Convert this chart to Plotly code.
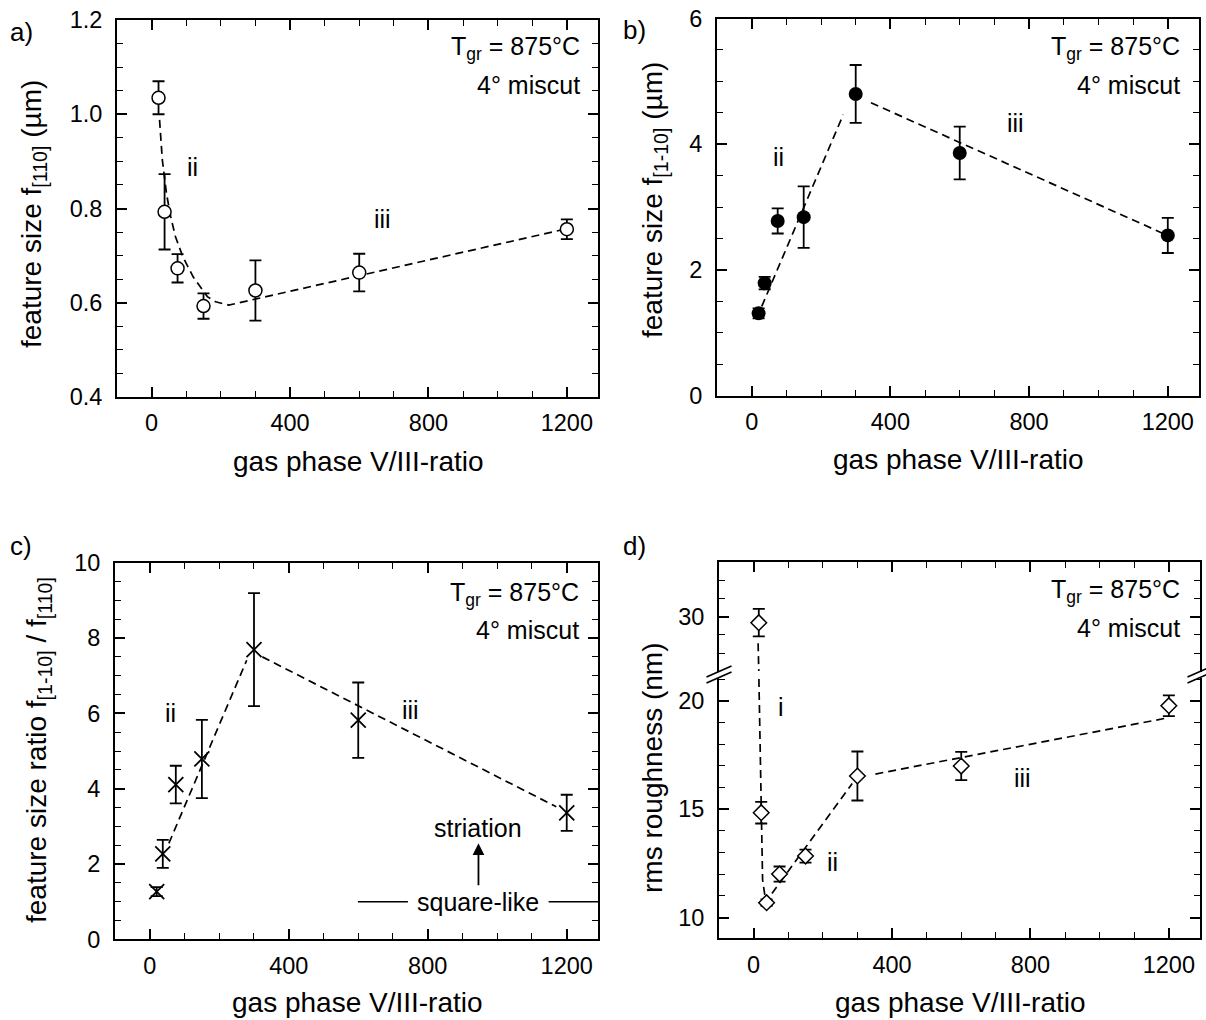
import plotly.graph_objects as go

W, H = 1206, 1020

# a) feature size along [110]
ratio_abc = [20, 37.5, 75, 150, 300, 600, 1200]
size_110 = [1.035, 0.793, 0.673, 0.593, 0.626, 0.664, 0.756]
size_110_err = [0.035, 0.08, 0.03, 0.027, 0.064, 0.04, 0.021]
guide_a_x = [23, 31, 43, 55, 69, 90, 120, 161, 185, 223, 1194]
guide_a_y = [0.988, 0.903, 0.832, 0.783, 0.740, 0.698, 0.655, 0.613, 0.602, 0.595, 0.756]

# b) feature size along [1-10]
size_1m10 = [1.31, 1.79, 2.78, 2.84, 4.80, 3.86, 2.55]
size_1m10_err = [0.08, 0.1, 0.2, 0.49, 0.46, 0.42, 0.28]
guide_b_ii_x, guide_b_ii_y = [29, 264], [1.42, 4.47]
guide_b_iii_x, guide_b_iii_y = [344, 1195], [4.66, 2.56]

# c) ratio f[1-10] / f[110]
size_ratio = [1.27, 2.27, 4.11, 4.79, 7.69, 5.82, 3.36]
size_ratio_err = [0.12, 0.37, 0.5, 1.04, 1.5, 1.0, 0.48]
guide_c_ii_x, guide_c_ii_y = [55, 279], [2.55, 7.41]
guide_c_iii_x, guide_c_iii_y = [324, 1170], [7.5, 3.52]

# d) rms roughness, broken y axis
ratio_d = [15, 22, 37.5, 75, 150, 300, 600, 1200]
rms = [29.67, 14.84, 10.69, 12.01, 12.84, 16.53, 16.99, 19.77]
rms_err = [0.75, 0.5, 0.15, 0.35, 0.3, 1.13, 0.65, 0.48]
guide_d_i_top_x, guide_d_i_top_y = [13, 15], [28.55, 27.03]
guide_d_i_x = [15.3, 17.4, 19.4, 22.3, 26, 33.8]
guide_d_i_y = [21.0, 18.96, 16.04, 14.19, 11.74, 10.89]
guide_d_ii_x, guide_d_ii_y = [53, 285], [11.12, 16.19]
guide_d_iii_x, guide_d_iii_y = [352, 1190], [16.62, 19.19]

FONT = "Liberation Sans, Arial, sans-serif"
TITLE_SIZE = 28
LABEL_SIZE = 25


def px(x, y):
    return x / W, 1 - y / H


def dom_x(a, b):
    return [a / W, b / W]


def dom_y(top, bottom):
    return [1 - bottom / H, 1 - top / H]


def base_axis(**kw):
    d = dict(
        showline=True, linecolor="black", linewidth=2, mirror="ticks",
        ticks="inside", ticklen=10, tickwidth=1.6, tickcolor="black",
        showgrid=False, zeroline=False, automargin=False,
        tickfont=dict(size=23.5, color="black", family=FONT),
    )
    d.update(kw)
    return d


def x_axis(domain, anchor, **kw):
    return base_axis(
        domain=domain, anchor=anchor, range=[-100, 1290], tick0=0, dtick=400,
        minor=dict(tick0=0, dtick=100, ticks="inside", ticklen=6, tickwidth=1.4, tickcolor="black"),
        ticklabelstandoff=4, **kw)


def y_axis(domain, anchor, rng, dtick, minor, **kw):
    return base_axis(
        domain=domain, anchor=anchor, range=rng, tick0=0, dtick=dtick,
        minor=dict(tick0=0, dtick=minor, ticks="inside", ticklen=6, tickwidth=1.4, tickcolor="black"),
        ticklabelstandoff=8, **kw)


fig = go.Figure()

err = dict(type="data", color="black", thickness=1.8, width=6)
dash_line = dict(color="black", width=1.7, dash="8px,5px")


def guide(x, y, xa, ya):
    fig.add_trace(go.Scatter(x=x, y=y, mode="lines", line=dash_line, xaxis=xa, yaxis=ya, hoverinfo="skip"))


# panel a
guide(guide_a_x, guide_a_y, "x", "y")
fig.add_trace(go.Scatter(
    x=ratio_abc, y=size_110, mode="markers", xaxis="x", yaxis="y",
    error_y=dict(array=size_110_err, **err),
    marker=dict(symbol="circle", size=13, color="white", line=dict(color="black", width=1.5)),
))

# panel b
guide(guide_b_ii_x, guide_b_ii_y, "x2", "y2")
guide(guide_b_iii_x, guide_b_iii_y, "x2", "y2")
fig.add_trace(go.Scatter(
    x=ratio_abc, y=size_1m10, mode="markers", xaxis="x2", yaxis="y2",
    error_y=dict(array=size_1m10_err, **err),
    marker=dict(symbol="circle", size=14, color="black"),
))

# panel c
guide(guide_c_ii_x, guide_c_ii_y, "x3", "y3")
guide(guide_c_iii_x, guide_c_iii_y, "x3", "y3")
fig.add_trace(go.Scatter(
    x=ratio_abc, y=size_ratio, mode="markers", xaxis="x3", yaxis="y3",
    error_y=dict(array=size_ratio_err, **err),
    marker=dict(symbol="x-thin", size=15, line=dict(color="black", width=1.8)),
))

# panel d (upper part of the broken axis holds the first point)
guide(guide_d_i_top_x, guide_d_i_top_y, "x5", "y5")
guide(guide_d_i_x, guide_d_i_y, "x4", "y4")
guide(guide_d_ii_x, guide_d_ii_y, "x4", "y4")
guide(guide_d_iii_x, guide_d_iii_y, "x4", "y4")
diamond = dict(symbol="diamond", size=12, color="white", line=dict(color="black", width=1.5))
fig.add_trace(go.Scatter(
    x=ratio_d[:1], y=rms[:1], mode="markers", xaxis="x5", yaxis="y5",
    error_y=dict(array=rms_err[:1], **err), marker=diamond,
))
fig.add_trace(go.Scatter(
    x=ratio_d[1:], y=rms[1:], mode="markers", xaxis="x4", yaxis="y4",
    error_y=dict(array=rms_err[1:], **err), marker=diamond,
))

fig.update_layout(
    width=W, height=H,
    margin=dict(l=0, r=0, t=0, b=0, autoexpand=False),
    paper_bgcolor="white", plot_bgcolor="white",
    showlegend=False,
    font=dict(family=FONT, size=23, color="black"),
    xaxis=x_axis(dom_x(117, 598), "y"),
    yaxis=y_axis(dom_y(20, 397), "x", [0.4, 1.2], 0.2, 0.05, tickformat=".1f"),
    xaxis2=x_axis(dom_x(717, 1199), "y2"),
    yaxis2=y_axis(dom_y(18.5, 395.7), "x2", [0, 6], 2, 0.5),
    xaxis3=x_axis(dom_x(115, 598), "y3"),
    yaxis3=y_axis(dom_y(562.7, 939.4), "x3", [0, 10], 2, 0.5),
    xaxis4=x_axis(dom_x(719, 1200), "y4", mirror=False),
    yaxis4=y_axis(dom_y(677.5, 938.3), "x4", [9.05, 21.07], 5, 1),
    xaxis5=x_axis(dom_x(719, 1200), "y5", side="top", mirror=False, showticklabels=False),
    yaxis5=y_axis(dom_y(562.3, 671.5), "x5", [27.0, 32.97], 10, 1, tickvals=[30]),
)

ann = []


def text(x, y, s, size=LABEL_SIZE, xanchor="center", angle=0):
    xp, yp = px(x, y)
    ann.append(dict(x=xp, y=yp, xref="paper", yref="paper", text=s, showarrow=False,
                    xanchor=xanchor, yanchor="middle", textangle=angle,
                    font=dict(size=size, color="black", family=FONT)))


# panel labels
for lab, (lx, ly) in zip(["a)", "b)", "c)", "d)"], [(8, 32), (621, 30), (8, 546), (621, 546)]):
    text(lx, ly, lab, size=26, xanchor="left")

# axis titles
for cx, cy in [(358, 462), (958, 460), (357, 1002), (960, 1002)]:
    text(cx, cy, "gas phase V/III-ratio", size=TITLE_SIZE)
text(33, 214, "feature size f<sub>[110]</sub> (µm)", size=TITLE_SIZE, angle=-90)
text(655, 200, "feature size f<sub>[1-10]</sub> (µm)", size=TITLE_SIZE, angle=-90)
text(38, 750, "feature size ratio f<sub>[1-10]</sub> / f<sub>[110]</sub>", size=TITLE_SIZE, angle=-90)
text(652, 768, "rms roughness (nm)", size=TITLE_SIZE, angle=-90)

# growth condition labels
for rx, y1, y2 in [(582, 48, 85), (1182, 48, 85), (581, 594, 630), (1182, 591, 628)]:
    text(rx, y1, "T<sub>gr</sub> = 875°C", xanchor="right")
    text(rx, y2, "4° miscut", xanchor="right")

# regime labels (data coordinates)
regimes = [("x", "y", 117, 0.889, "ii"), ("x", "y", 668, 0.777, "iii"),
           ("x2", "y2", 77, 3.80, "ii"), ("x2", "y2", 760, 4.33, "iii"),
           ("x3", "y3", 60, 6.0, "ii"), ("x3", "y3", 749, 6.08, "iii"),
           ("x4", "y4", 80, 19.72, "i"), ("x4", "y4", 228, 12.58, "ii"), ("x4", "y4", 776, 16.42, "iii")]
for xa, ya, rx, ry, s in regimes:
    ann.append(dict(x=rx, y=ry, xref=xa, yref=ya, text=s, showarrow=False,
                    font=dict(size=LABEL_SIZE, color="black", family=FONT)))

# striation / square-like annotation in panel c
ann.append(dict(x=946, y=2.95, xref="x3", yref="y3", text="striation", showarrow=False,
                font=dict(size=LABEL_SIZE, color="black", family=FONT)))
ann.append(dict(x=946, y=1.0, xref="x3", yref="y3", text="square-like", showarrow=False,
                font=dict(size=LABEL_SIZE, color="black", family=FONT)))
ann.append(dict(x=946, y=2.55, xref="x3", yref="y3", ax=946, ay=1.4, axref="x3", ayref="y3",
                text="", showarrow=True, arrowhead=2, arrowsize=1.3, arrowwidth=1.8, arrowcolor="black"))

fig.update_layout(annotations=ann)

shapes = [
    dict(type="line", xref="x3", yref="y3", x0=599, x1=743, y0=1.0, y1=1.0, line=dict(color="black", width=1.6)),
    dict(type="line", xref="x3", yref="y3", x0=1148, x1=1290, y0=1.0, y1=1.0, line=dict(color="black", width=1.6)),
]
# axis break marks on panel d
for sx in [719, 1200]:
    for dy in [0, 6]:
        x0, y0 = px(sx - 12.5, 683 - dy)
        x1, y1 = px(sx + 12.5, 672 - dy)
        shapes.append(dict(type="line", xref="paper", yref="paper", x0=x0, y0=y0, x1=x1, y1=y1,
                           line=dict(color="black", width=1.8)))
fig.update_layout(shapes=shapes)

# the page body has a default 8px margin; drop it so the figure fills the window
fig.write_html("out.html", config={"displayModeBar": False},
               post_script="document.body.style.margin='0px';")
